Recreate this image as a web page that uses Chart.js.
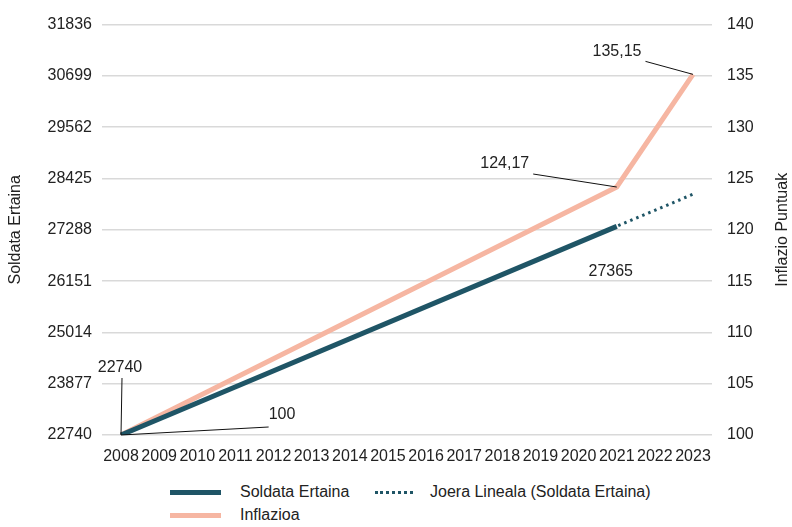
<!DOCTYPE html>
<html>
<head>
<meta charset="utf-8">
<script src="https://cdn.jsdelivr.net/npm/chart.js@4"></script>
<style>
  body { margin: 0; background: #fff; font-family: "Liberation Sans", Arial, sans-serif; }
  #wrap { position: relative; width: 792px; height: 470px; }
  #legend { position: relative; width: 792px; height: 57px; color: #222; font-size: 16px; }
  .item { position: absolute; display: flex; align-items: center; }
  .swatch { width: 51px; height: 0; margin-right: 19px; }
</style>
</head>
<body>
<div id="wrap"><canvas id="chart"></canvas></div>
<div id="legend"></div>
<script>
// DATA
const years = ["2008","2009","2010","2011","2012","2013","2014","2015","2016","2017","2018","2019","2020","2021","2022","2023"];
const soldata = [22740, null, null, null, null, null, null, null, null, null, null, null, null, 27365, null, null];
const inflazioa = [100, null, null, null, null, null, null, null, null, null, null, null, null, 124.17, null, 135.15];
const joera = [22740, null, null, null, null, null, null, null, null, null, null, null, null, null, null, 28076];

const leftTicks = { min: 22740, max: 31836, step: 1137 };
const rightTicks = { min: 100, max: 140, step: 5 };

const TEAL = "#1f5566";
const SALMON = "#f6b6a2";
const GRID = "#d9d9d9";
const TEXT = "#222";
const FONT = "'Liberation Sans', Arial, sans-serif";

Chart.defaults.font.family = FONT;
Chart.defaults.font.size = 16;
Chart.defaults.color = TEXT;

// point labels with leader lines: [datasetIndex, dataIndex, dx, dy, leader]
const pointLabels = [
  [0, 0, -1, -67, true],
  [1, 0, 161, -20, true],
  [1, 13, -112, -23, true],
  [1, 15, -76, -23, true],
  [0, 13, -6, 45, false]
];

const labelPlugin = {
  id: "pointLabels",
  afterDatasetsDraw(chart) {
    const ctx = chart.ctx;
    ctx.save();
    ctx.font = "16px " + FONT;
    ctx.textAlign = "center";
    ctx.textBaseline = "middle";
    pointLabels.forEach(([ds, i, dx, dy, leader]) => {
      const pt = chart.getDatasetMeta(ds).data[i];
      const v = chart.data.datasets[ds].data[i];
      const txt = String(v).replace(".", ",");
      const tx = pt.x + dx, ty = pt.y + dy;
      if (leader) {
        const w = ctx.measureText(txt).width;
        let sx, sy;
        if (Math.abs(dx) < 10) { sx = tx + 2; sy = ty + 10; }
        else if (dx > 0) { sx = tx - w / 2; sy = ty + 12; }
        else { sx = tx + w / 2 + 4; sy = ty + 10; }
        ctx.strokeStyle = "#111";
        ctx.lineWidth = 1;
        ctx.beginPath();
        ctx.moveTo(sx, sy);
        ctx.lineTo(pt.x, pt.y);
        ctx.stroke();
      }
      ctx.fillStyle = TEXT;
      ctx.fillText(txt, tx, ty);
    });
    // right axis title, reading upwards
    const s = chart.scales.y1;
    ctx.translate(783, (s.top + s.bottom) / 2);
    ctx.rotate(-Math.PI / 2);
    ctx.fillText(s.options.title.text, 0, 0);
    ctx.restore();
  }
};

const chart = new Chart(document.getElementById("chart"), {
  type: "line",
  data: {
    labels: years,
    datasets: [
      { label: "Soldata Ertaina", data: soldata, yAxisID: "y", borderColor: TEAL, backgroundColor: TEAL,
        borderWidth: 5, pointRadius: 0, spanGaps: true, borderCapStyle: "butt" },
      { label: "Inflazioa", data: inflazioa, yAxisID: "y1", borderColor: SALMON, backgroundColor: SALMON,
        borderWidth: 5, pointRadius: 0, spanGaps: true },
      { label: "Joera Lineala (Soldata Ertaina)", data: joera, yAxisID: "y", borderColor: TEAL, backgroundColor: TEAL,
        borderWidth: 3, borderDash: [2.5, 4], pointRadius: 0, spanGaps: true }
    ]
  },
  options: {
    responsive: true,
    maintainAspectRatio: false,
    animation: false,
    layout: { padding: { top: 16, left: 0, right: 0, bottom: 0 } },
    plugins: { legend: { display: false }, tooltip: { enabled: false } },
    scales: {
      x: {
        offset: false,
        grid: { display: false },
        border: { display: false },
        ticks: { maxRotation: 0, autoSkip: false, padding: 4 },
        afterFit(s) { s.height = 35; }
      },
      y: {
        position: "left",
        min: leftTicks.min, max: leftTicks.max,
        ticks: { stepSize: leftTicks.step, padding: 10, callback: v => String(v) },
        grid: { color: GRID, lineWidth: 1.5, tickLength: 19 },
        border: { display: false },
        title: { display: true, text: "Soldata Ertaina", padding: { top: 6, bottom: 0 } },
        afterFit(s) { s.width = 121; }
      },
      y1: {
        position: "right",
        min: rightTicks.min, max: rightTicks.max,
        ticks: { stepSize: rightTicks.step, padding: 15, callback: v => String(v) },
        grid: { color: GRID, lineWidth: 1.5, tickLength: 19, drawOnChartArea: false },
        border: { display: false },
        title: { display: false, text: "Inflazio Puntuak" },
        afterFit(s) { s.width = 99; }
      }
    }
  },
  plugins: [labelPlugin]
});

// HTML legend, two columns
const legendPos = [[170, 23], [170, 46], [375, 23]];
const legend = document.getElementById("legend");
chart.data.datasets.forEach((d, i) => {
  const el = document.createElement("div");
  el.className = "item";
  el.style.left = legendPos[i][0] + "px";
  el.style.top = (legendPos[i][1] - 10) + "px";
  const sw = document.createElement("span");
  sw.className = "swatch";
  if (d.borderDash) {
    sw.style.borderTop = "3px dotted " + d.borderColor;
    sw.style.width = "38px";
    sw.style.marginRight = "17px";
  } else {
    sw.style.borderTop = "5px solid " + d.borderColor;
  }
  const t = document.createElement("span");
  t.textContent = d.label;
  el.appendChild(sw);
  el.appendChild(t);
  legend.appendChild(el);
});
</script>
</body>
</html>
